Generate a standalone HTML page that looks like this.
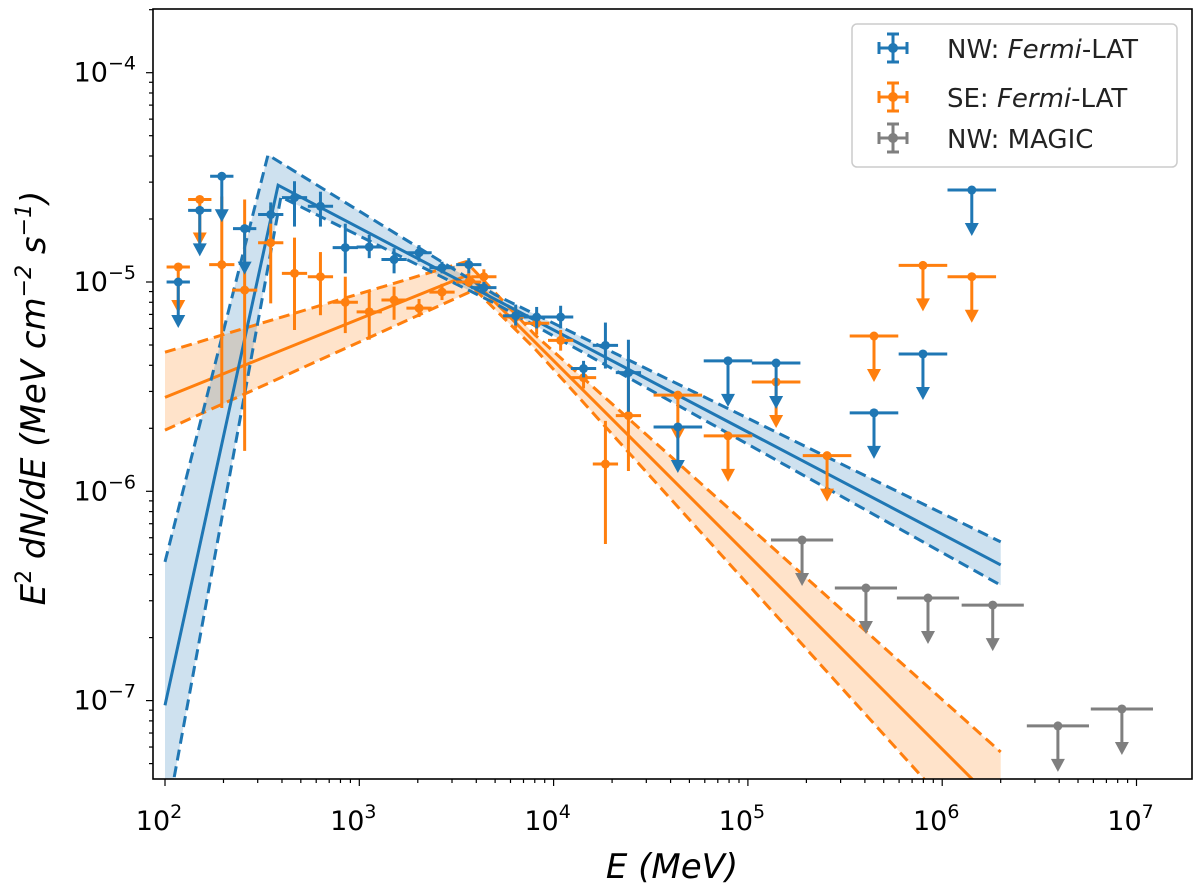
<!DOCTYPE html>
<html><head><meta charset="utf-8"><style>
html,body{margin:0;padding:0;background:#fff;}
svg{display:block;font-family:"DejaVu Sans","Liberation Sans",sans-serif;}
</style></head><body>
<svg id="chart" width="1200" height="895" viewBox="0 0 1200 895" xmlns="http://www.w3.org/2000/svg">
<defs><clipPath id="plotclip"><rect x="153" y="9" width="1039" height="770"/></clipPath></defs>
<rect x="0" y="0" width="1200" height="895" fill="#fff"/>
<g id="bands" clip-path="url(#plotclip)"></g>
<g id="lines" clip-path="url(#plotclip)"></g>
<g id="points" clip-path="url(#plotclip)"></g>
<rect x="153" y="9" width="1039" height="770" fill="none" stroke="#000" stroke-width="1.6"/>
<g id="axes"></g>
<text x="672" y="878" text-anchor="middle" font-size="34" font-style="italic">E (MeV)</text>
<text transform="translate(45,398) rotate(-90)" text-anchor="middle" font-size="34" font-style="italic">E<tspan font-size="22" dy="-14" font-style="normal">2</tspan><tspan dy="14"> dN/dE (MeV cm</tspan><tspan font-size="22" dy="-14">−2</tspan><tspan dy="14"> s</tspan><tspan font-size="22" dy="-14">−1</tspan><tspan dy="14">)</tspan></text>
<g>
<rect x="852" y="24" width="325" height="143" rx="5" fill="#fff" stroke="#ccc" stroke-width="1.5"/>
<g>
<g stroke="#1f77b4" stroke-width="3"><line x1="893" y1="34" x2="893" y2="62"/><line x1="879" y1="48" x2="907" y2="48"/><line x1="879" y1="42" x2="879" y2="54"/><line x1="907" y1="42" x2="907" y2="54"/><line x1="887" y1="34" x2="899" y2="34"/><line x1="887" y1="62" x2="899" y2="62"/></g><circle cx="893" cy="48" r="5" fill="#1f77b4"/>
<text x="947" y="58" font-size="26" fill="#222">NW: <tspan font-style="italic">Fermi</tspan>-LAT</text></g>
<g>
<g stroke="#ff7f0e" stroke-width="3"><line x1="893" y1="83" x2="893" y2="111"/><line x1="879" y1="97" x2="907" y2="97"/><line x1="879" y1="91" x2="879" y2="103"/><line x1="907" y1="91" x2="907" y2="103"/><line x1="887" y1="83" x2="899" y2="83"/><line x1="887" y1="111" x2="899" y2="111"/></g><circle cx="893" cy="97" r="5" fill="#ff7f0e"/>
<text x="947" y="107" font-size="26" fill="#222">SE: <tspan font-style="italic">Fermi</tspan>-LAT</text></g>
<g>
<g stroke="#7f7f7f" stroke-width="3"><line x1="893" y1="124" x2="893" y2="152"/><line x1="879" y1="138" x2="907" y2="138"/><line x1="879" y1="132" x2="879" y2="144"/><line x1="907" y1="132" x2="907" y2="144"/><line x1="887" y1="124" x2="899" y2="124"/><line x1="887" y1="152" x2="899" y2="152"/></g><circle cx="893" cy="138" r="5" fill="#7f7f7f"/>
<text x="947" y="148" font-size="26" fill="#222">NW: MAGIC</text></g>
</g>
</svg>
<script>
// ---- data ----
const xTickExps = [2,3,4,5,6,7];
const yTickExps = [-4,-5,-6,-7];

const blueE  = [350,464,631,847,1125,1510,2030,2665,3660,4375,6380,8180,10870,14260,18480,24270];
const blueF  = [2.10e-5,2.53e-5,2.30e-5,1.46e-5,1.47e-5,1.28e-5,1.38e-5,1.17e-5,1.21e-5,9.4e-6,6.9e-6,6.8e-6,6.8e-6,3.86e-6,4.98e-6,3.69e-6];
const blueLo = [1.9e-5,1.84e-5,1.84e-5,1.1e-5,1.3e-5,1.1e-5,1.25e-5,1.1e-5,1.1e-5,8.8e-6,6.2e-6,6.0e-6,6.0e-6,3.5e-6,3.86e-6,2.4e-6];
const blueHi = [2.4e-5,3.03e-5,2.7e-5,1.9e-5,1.68e-5,1.45e-5,1.5e-5,1.25e-5,1.3e-5,1.0e-5,7.8e-6,7.6e-6,7.7e-6,4.2e-6,6.4e-6,5.3e-6];
const blueUlE = [117,151,196,257,43600,79000,139700,445600,796000,1.42e6];
const blueUlF = [1.0e-5,2.2e-5,3.2e-5,1.8e-5,2.03e-6,4.2e-6,4.1e-6,2.37e-6,4.53e-6,2.75e-5];
const blueUlHalfDex = [0.06,0.06,0.06,0.06,0.125,0.125,0.125,0.125,0.125,0.125];

const orangeE  = [196,257,350,464,631,847,1125,1510,2030,2665,3660,4375,6380,8180,10870,14260,18480,24270];
const orangeF  = [1.21e-5,9.15e-6,1.54e-5,1.10e-5,1.06e-5,8.0e-6,7.2e-6,8.2e-6,7.5e-6,8.95e-6,1.0e-5,1.06e-5,6.8e-6,6.35e-6,5.26e-6,3.49e-6,1.35e-6,2.30e-6];
const orangeLo = [2.5e-6,1.56e-6,7.9e-6,5.9e-6,6.94e-6,5.7e-6,5.3e-6,6.6e-6,6.8e-6,8.2e-6,9.5e-6,1.0e-5,6.0e-6,5.6e-6,4.7e-6,3.1e-6,5.6e-7,1.25e-6];
const orangeHi = [2.56e-5,2.48e-5,2.30e-5,1.63e-5,1.39e-5,1.06e-5,9.1e-6,9.5e-6,8.3e-6,9.8e-6,1.1e-5,1.15e-5,7.6e-6,7.2e-6,5.9e-6,3.9e-6,2.17e-6,3.4e-6];
const orangeUlE = [117,151,43600,79000,139700,255500,445600,796000,1.42e6];
const orangeUlF = [1.18e-5,2.48e-5,2.88e-6,1.84e-6,3.33e-6,1.48e-6,5.52e-6,1.20e-5,1.06e-5];
const orangeUlHalfDex = [0.06,0.06,0.125,0.125,0.125,0.125,0.125,0.125,0.125];

const grayUlE = [190000,405000,845000,1.82e6,3.94e6,8.41e6];
const grayUlF = [5.85e-7,3.45e-7,3.09e-7,2.86e-7,7.57e-8,9.12e-8];
const grayUlHalfDex = [0.16,0.16,0.16,0.16,0.16,0.16];

const blueModelE = [100,382,2e6];        const blueModelF = [9.5e-8,2.9e-5,4.45e-7];
const blueUpperE = [100,339,5000,2e6];   const blueUpperF = [4.6e-7,4.05e-5,8.7e-6,5.73e-7];
const blueLowerE = [100,395,5000,2e6];   const blueLowerF = [2.48e-8,2.55e-5,7.9e-6,3.56e-7];
const orangeModelE = [100,3620,2e6];      const orangeModelF = [2.81e-6,1.08e-5,3.08e-8];
const orangeUpperE = [100,3540,8000,2e6]; const orangeUpperF = [4.62e-6,1.25e-5,5.6e-6,5.68e-8];
const orangeLowerE = [100,3940,8000,2e6]; const orangeLowerF = [1.96e-6,9.2e-6,4.8e-6,1.66e-8];

// ---- axes ----
const NS = 'http://www.w3.org/2000/svg';
function xS(e){ return 165 + 194.3*(Math.log10(e)-2); }
function yS(f){ return 282 - 209.3*(Math.log10(f)+5); }
function xDex(e,d){ return xS(e*Math.pow(10,d)); }
function mk(tag, attrs, parent){ const el=document.createElementNS(NS,tag); for(const k in attrs) el.setAttribute(k,attrs[k]); parent.appendChild(el); return el; }

const axes = document.getElementById('axes');
for (let p=2; p<=7; p++){
  for (let m=1; m<10; m++){
    const x = xS(m*Math.pow(10,p));
    if (x<153||x>1192) continue;
    const t = mk('line',{x1:x,y1:779,x2:x,y2:m===1?786:783,stroke:'#000','stroke-width':1.2},axes);
    
    
  }
}
for (let p=-8; p<=-3; p++){
  for (let m=1; m<10; m++){
    const y = yS(m*Math.pow(10,p));
    if (y<9||y>779) continue;
    const t = mk('line',{x1:153,y1:y,x2:m===1?146:149,y2:y,stroke:'#000','stroke-width':1.2},axes);
    
    
  }
}
xTickExps.forEach(p=>{
  const t = mk('text',{x:xS(Math.pow(10,p))-6,y:830,'text-anchor':'middle','font-size':27},axes);
  
  
  t.innerHTML = '10<tspan font-size="19" dy="-12">'+p+'</tspan>';
});
yTickExps.forEach(p=>{
  const t = mk('text',{x:136,y:yS(Math.pow(10,p))+9,'text-anchor':'end','font-size':27},axes);
  
  
  t.innerHTML = '10<tspan font-size="19" dy="-12">−'+(-p)+'</tspan>';
});

// ---- models ----
const bands = document.getElementById('bands');
const lines = document.getElementById('lines');
function pts(E,F){ return E.map((e,i)=>xS(e).toFixed(1)+','+yS(F[i]).toFixed(1)); }
function band(uE,uF,lE,lF,color,name){
  const p = pts(uE,uF).concat(pts(lE,lF).reverse());
  const el = mk('polygon',{points:p.join(' '),fill:color,'fill-opacity':0.22,stroke:'none'},bands);
  
  
}
function line(E,F,color,dash,name){
  const a={points:pts(E,F).join(' '),fill:'none',stroke:color,'stroke-width':3};
  if(dash) a['stroke-dasharray']='11,6';
  const el = mk('polyline',a,lines);
  
  
}
band(orangeUpperE,orangeUpperF,orangeLowerE,orangeLowerF,'#ff7f0e','se-model-band');
band(blueUpperE,blueUpperF,blueLowerE,blueLowerF,'#1f77b4','nw-model-band');
line(orangeModelE,orangeModelF,'#ff7f0e',false,'se-model-line');
line(orangeUpperE,orangeUpperF,'#ff7f0e',true,'se-model-upper');
line(orangeLowerE,orangeLowerF,'#ff7f0e',true,'se-model-lower');
line(blueModelE,blueModelF,'#1f77b4',false,'nw-model-line');
line(blueUpperE,blueUpperF,'#1f77b4',true,'nw-model-upper');
line(blueLowerE,blueLowerF,'#1f77b4',true,'nw-model-lower');

// ---- points ----
const pg = document.getElementById('points');
function points(E,F,Lo,Hi,color,name){
  E.forEach((e,i)=>{
    const g = mk('g',{stroke:color,'stroke-width':3},pg);
    
    
    const x=xS(e), y=yS(F[i]);
    mk('line',{x1:x,y1:yS(Hi[i]),x2:x,y2:yS(Lo[i])},g);
    mk('line',{x1:xDex(e,-0.065),y1:y,x2:xDex(e,0.065),y2:y},g);
    mk('circle',{cx:x,cy:y,r:4.5,fill:color,stroke:'none'},g);
  });
}
function uls(E,F,H,color,name){
  E.forEach((e,i)=>{
    const g = mk('g',{stroke:color,'stroke-width':3},pg);
    
    
    const x=xS(e), y=yS(F[i]);
    mk('line',{x1:xDex(e,-H[i]),y1:y,x2:xDex(e,H[i]),y2:y},g);
    mk('line',{x1:x,y1:y,x2:x,y2:y+36},g);
    mk('polygon',{points:(x-7)+','+(y+33)+' '+(x+7)+','+(y+33)+' '+x+','+(y+46),fill:color,stroke:'none'},g);
    mk('circle',{cx:x,cy:y,r:4.5,fill:color,stroke:'none'},g);
  });
}
uls(grayUlE,grayUlF,grayUlHalfDex,'#7f7f7f','magic-upper-limit');
points(orangeE,orangeF,orangeLo,orangeHi,'#ff7f0e','se-fermi-point');
uls(orangeUlE,orangeUlF,orangeUlHalfDex,'#ff7f0e','se-fermi-upper-limit');
points(blueE,blueF,blueLo,blueHi,'#1f77b4','nw-fermi-point');
uls(blueUlE,blueUlF,blueUlHalfDex,'#1f77b4','nw-fermi-upper-limit');
</script>
</body></html>
